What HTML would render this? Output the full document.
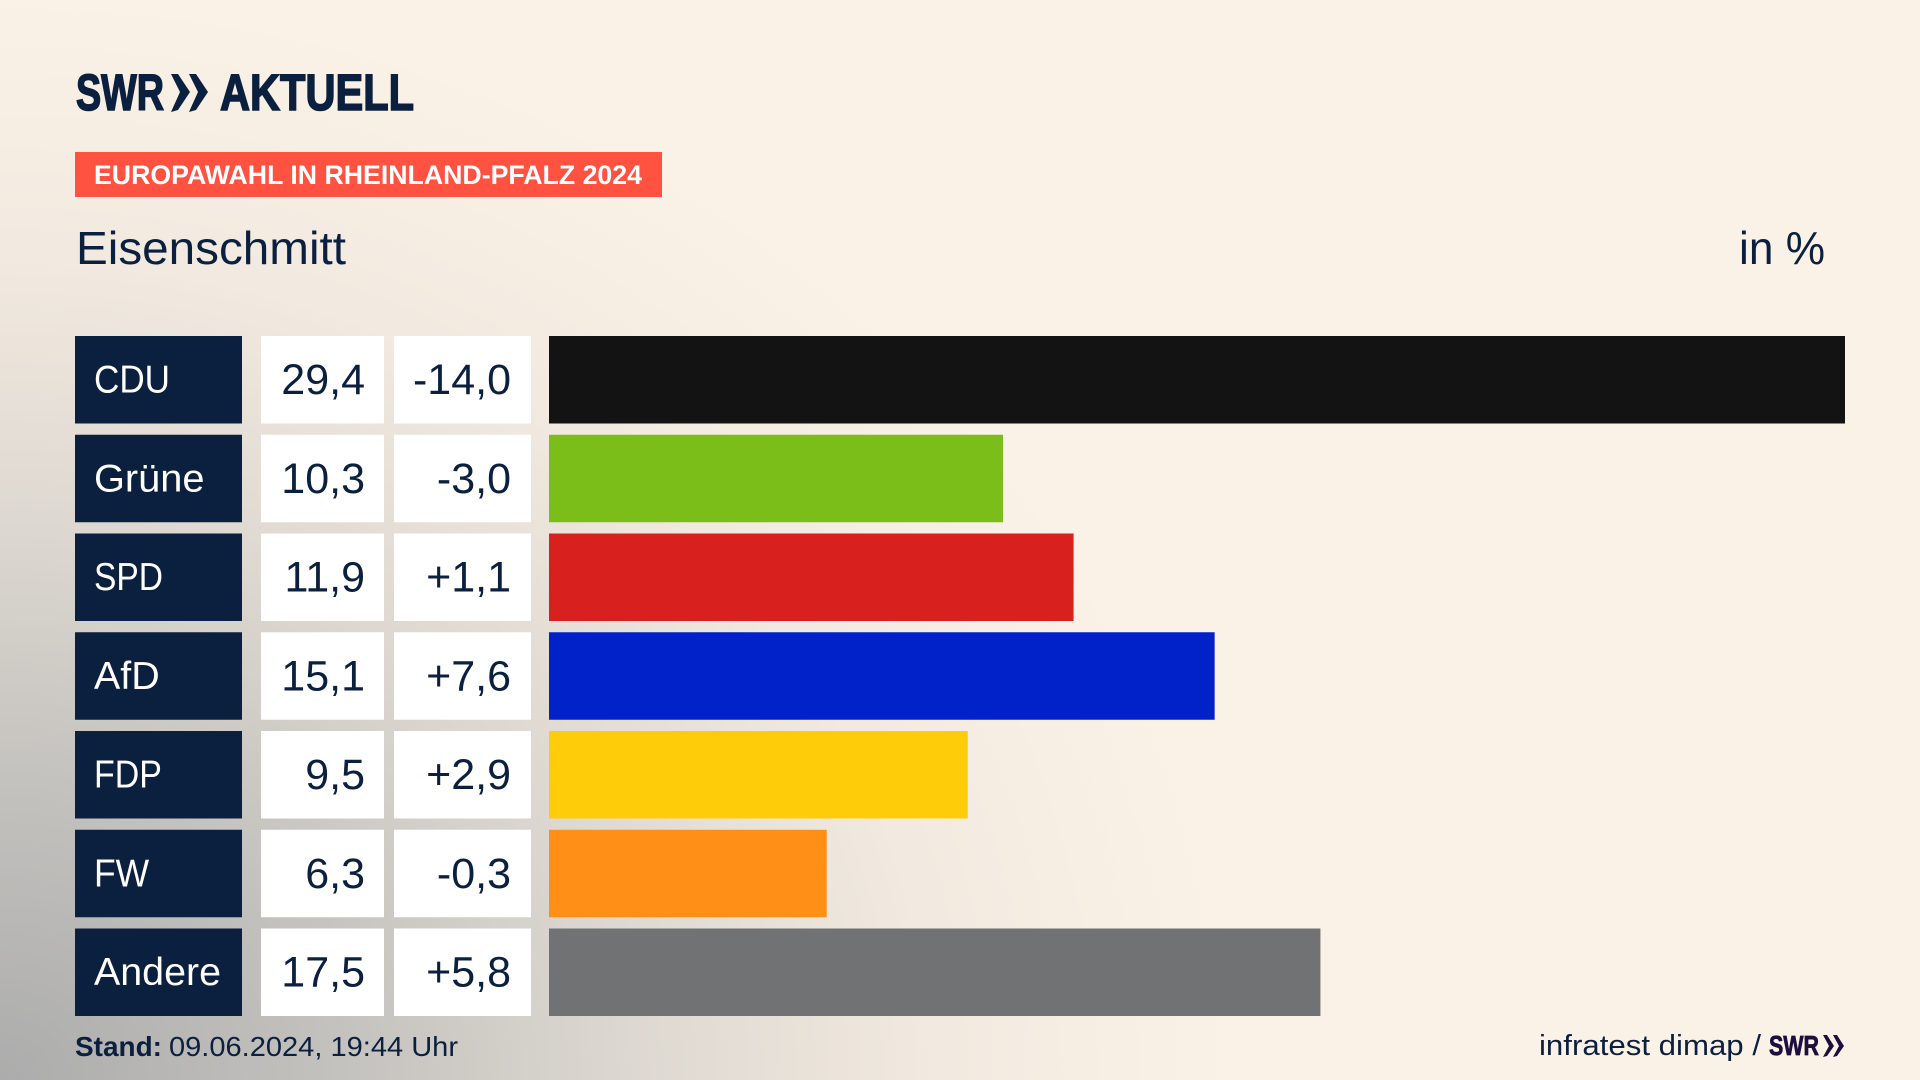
<!DOCTYPE html>
<html lang="de">
<head>
<meta charset="utf-8">
<title>Europawahl in Rheinland-Pfalz 2024 – Eisenschmitt</title>
<style>
html,body{margin:0;padding:0;width:1920px;height:1080px;overflow:hidden;background:#fbf2e7}
#bg{position:absolute;left:0;top:0;width:1920px;height:1080px;
background:
radial-gradient(ellipse 1240px 1090px at 0px 1080px,rgba(172,172,172,1) 0%,rgba(190,189,186,.95) 25%,rgba(212,208,202,.8) 50%,rgba(232,225,216,.5) 75%,rgba(251,242,231,0) 100%),
#fbf2e7}
svg{position:absolute;left:0;top:0}
text{font-family:"Liberation Sans",sans-serif;fill:#0b1f3e}
.heavy{stroke:#0b1f3e;stroke-width:1.6px}
</style>
</head>
<body>
<div id="bg"></div>
<svg id="chart" width="1920" height="1080" viewBox="0 0 1920 1080" xmlns="http://www.w3.org/2000/svg">
  <g>
    <text class="heavy" x="76" y="110" font-size="51" font-weight="700" textLength="88" lengthAdjust="spacingAndGlyphs">SWR</text>
    <polygon points="171,74 178,74 190,92 178,110 171,112 180,92" fill="#0b1f3e"/>
    <polygon points="189,74 196,74 208,92 196,110 189,112 198,92" fill="#0b1f3e"/>
    <text class="heavy" x="220" y="110" font-size="51" font-weight="700" textLength="194" lengthAdjust="spacingAndGlyphs">AKTUELL</text>
  </g>
  <rect x="75" y="152" width="587" height="45" fill="#ff5240"/>
  <text x="94" y="184" font-size="27" font-weight="700" textLength="548" lengthAdjust="spacingAndGlyphs" style="fill:#fff">EUROPAWAHL IN RHEINLAND-PFALZ 2024</text>
  <text x="76" y="264" font-size="46" textLength="270" lengthAdjust="spacingAndGlyphs">Eisenschmitt</text>
  <text x="1739" y="264" font-size="46" textLength="86" lengthAdjust="spacingAndGlyphs">in %</text>
  <g id="rows"></g>
  <text x="75" y="1056" font-size="28" font-weight="700" textLength="87" lengthAdjust="spacingAndGlyphs">Stand:</text>
  <text x="169" y="1056" font-size="28" textLength="289" lengthAdjust="spacingAndGlyphs">09.06.2024, 19:44 Uhr</text>
  <text x="1539" y="1055" font-size="29" textLength="222" lengthAdjust="spacingAndGlyphs">infratest dimap /</text>
  <g>
    <text x="1769" y="1055" font-size="28" font-weight="700" textLength="50" lengthAdjust="spacingAndGlyphs" style="fill:#1c0f3f;stroke:#1c0f3f;stroke-width:.8px">SWR</text>
    <polygon points="1823,1035 1827,1035 1834,1046 1827,1056 1823,1057 1829,1046" fill="#1c0f3f"/>
    <polygon points="1833,1035 1837,1035 1844,1046 1837,1056 1833,1057 1839,1046" fill="#1c0f3f"/>
  </g>
</svg>
<script>
const categories = ['CDU', 'Grüne', 'SPD', 'AfD', 'FDP', 'FW', 'Andere'];
const shareValues = [29.4, 10.3, 11.9, 15.1, 9.5, 6.3, 17.5];
const changeValues = [-14.0, -3.0, 1.1, 7.6, 2.9, -0.3, 5.8];
const barColors = ['#131313', '#7bbd19', '#d8201e', '#0022c8', '#ffcc0a', '#ff8f17', '#707273'];
const labelStretch = [0.9, 1.02, 0.86, 1.01, 0.87, 0.91, 1.01];

const SVG_NS = 'http://www.w3.org/2000/svg';
const BAR_LEFT = 549;
const BAR_MAX_WIDTH = 1296;
const ROW_TOP = 336;
const ROW_PITCH = 98.75;
const ROW_HEIGHT = 87.5;

function xScale(v) {
  return v / Math.max.apply(null, shareValues) * BAR_MAX_WIDTH;
}
function yScale(i) {
  return ROW_TOP + i * ROW_PITCH;
}
function formatShare(v) {
  return v.toFixed(1).replace('.', ',');
}
function formatChange(v) {
  return (v > 0 ? '+' : '') + v.toFixed(1).replace('.', ',');
}
function svgEl(tag, attrs) {
  const el = document.createElementNS(SVG_NS, tag);
  for (const k in attrs) el.setAttribute(k, attrs[k]);
  return el;
}

const rowsGroup = document.getElementById('rows');
categories.forEach(function (party, i) {
  const y = yScale(i);
  const slug = party.toLowerCase().replace('ü', 'ue');
  const baseline = y + 58;

  const row = svgEl('g', {});
  
  

  const labelBox = svgEl('rect', { x: 75, y: y, width: 167, height: ROW_HEIGHT, fill: '#0b1f3e' });
  
  
  row.appendChild(labelBox);

  const label = svgEl('text', { transform: 'translate(94,' + (baseline - 1.5) + ') scale(' + labelStretch[i] + ',1)', 'font-size': 39, style: 'fill:#fff' });
  label.textContent = party;
  
  
  row.appendChild(label);

  const shareBox = svgEl('rect', { x: 261, y: y, width: 123, height: ROW_HEIGHT, fill: '#fff' });
  
  
  row.appendChild(shareBox);

  const share = svgEl('text', { x: 365, y: baseline, 'font-size': 43, 'text-anchor': 'end' });
  share.textContent = formatShare(shareValues[i]);
  
  
  row.appendChild(share);

  const changeBox = svgEl('rect', { x: 394, y: y, width: 137, height: ROW_HEIGHT, fill: '#fff' });
  
  
  row.appendChild(changeBox);

  const change = svgEl('text', { x: 511, y: baseline, 'font-size': 43, 'text-anchor': 'end' });
  change.textContent = formatChange(changeValues[i]);
  
  
  row.appendChild(change);

  const bar = svgEl('rect', { x: BAR_LEFT, y: y, width: xScale(shareValues[i]), height: ROW_HEIGHT, fill: barColors[i] });
  
  
  row.appendChild(bar);

  rowsGroup.appendChild(row);
});
</script>
</body>
</html>
